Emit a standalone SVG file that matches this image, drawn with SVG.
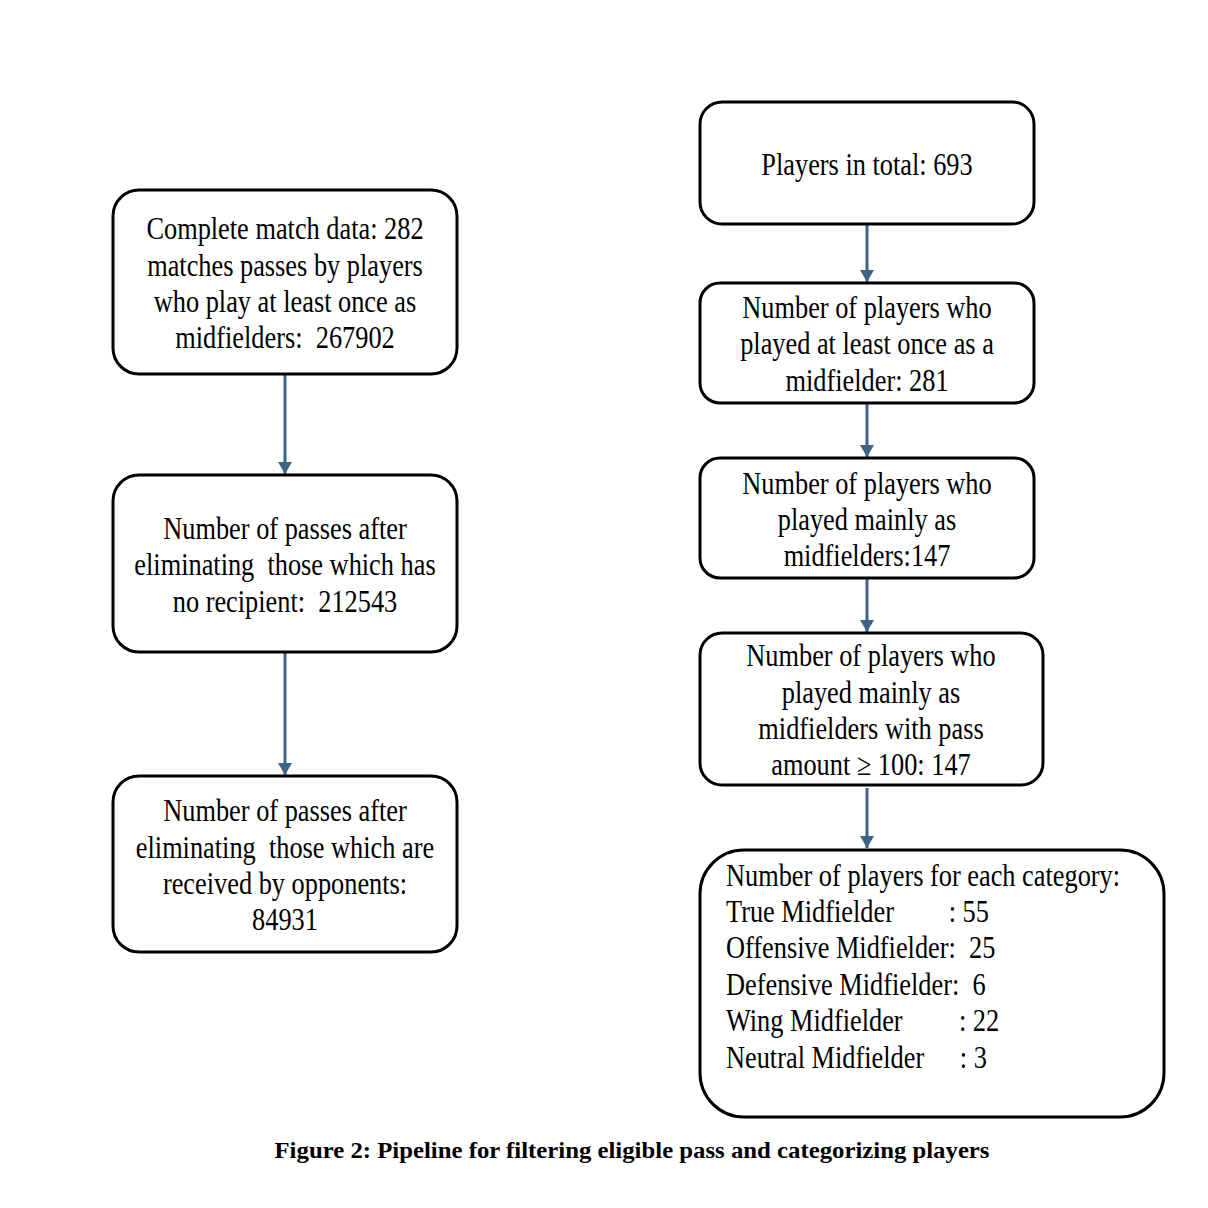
<svg xmlns="http://www.w3.org/2000/svg" width="1208" height="1208" viewBox="0 0 1208 1208">
<style>
.box{fill:#fff;stroke:#000;stroke-width:3}
.t{font-family:"Liberation Serif","Times New Roman",serif;font-size:31px;fill:#000}
.c{text-anchor:middle}
.conn{stroke:#3d6386;stroke-width:3;fill:none}
.cap{font-family:"Liberation Serif","Times New Roman",serif;font-size:24px;font-weight:bold;fill:#000;text-anchor:middle}
</style>
<defs>
<marker id="ah" viewBox="0 0 12 14" refX="12" refY="7" markerWidth="13" markerHeight="14" markerUnits="userSpaceOnUse" orient="auto">
<path d="M0,0 L12,7 L0,14 Z" fill="#3d6386"/>
</marker>
</defs>
<rect width="1208" height="1208" fill="#fff"/>
<g id="connectors">
<line class="conn" x1="285" y1="375" x2="285" y2="474" marker-end="url(#ah)"/>
<line class="conn" x1="285" y1="653" x2="285" y2="775" marker-end="url(#ah)"/>
<line class="conn" x1="867" y1="225" x2="867" y2="282" marker-end="url(#ah)"/>
<line class="conn" x1="867" y1="404" x2="867" y2="457" marker-end="url(#ah)"/>
<line class="conn" x1="867" y1="579" x2="867" y2="632" marker-end="url(#ah)"/>
<line class="conn" x1="867" y1="788" x2="867" y2="848" marker-end="url(#ah)"/>
</g>
<g id="node-match-data">
<rect class="box" x="113" y="190" width="344" height="184" rx="26"/>
<g transform="translate(285 0) scale(0.85 1)">
<text class="t c" x="0" y="239">Complete match data: 282</text>
<text class="t c" x="0" y="276">matches passes by players</text>
<text class="t c" x="0" y="312">who play at least once as</text>
<text class="t c" x="0" y="348" xml:space="preserve">midfielders:  267902</text>
</g>
</g>
<g id="node-no-recipient">
<rect class="box" x="113" y="475" width="344" height="177" rx="26"/>
<g transform="translate(285 0) scale(0.85 1)">
<text class="t c" x="0" y="539">Number of passes after</text>
<text class="t c" x="0" y="575" xml:space="preserve">eliminating  those which has</text>
<text class="t c" x="0" y="612" xml:space="preserve">no recipient:  212543</text>
</g>
</g>
<g id="node-opponents">
<rect class="box" x="113" y="776" width="344" height="176" rx="26"/>
<g transform="translate(285 0) scale(0.85 1)">
<text class="t c" x="0" y="821">Number of passes after</text>
<text class="t c" x="0" y="858" xml:space="preserve">eliminating  those which are</text>
<text class="t c" x="0" y="894">received by opponents:</text>
<text class="t c" x="0" y="930">84931</text>
</g>
</g>
<g id="node-players-total">
<rect class="box" x="700" y="102" width="334" height="122" rx="22"/>
<g transform="translate(867 0) scale(0.85 1)">
<text class="t c" x="0" y="175">Players in total: 693</text>
</g>
</g>
<g id="node-once-midfielder">
<rect class="box" x="700" y="283" width="334" height="120" rx="20"/>
<g transform="translate(867 0) scale(0.85 1)">
<text class="t c" x="0" y="318">Number of players who</text>
<text class="t c" x="0" y="354">played at least once as a</text>
<text class="t c" x="0" y="391">midfielder: 281</text>
</g>
</g>
<g id="node-mainly-midfielder">
<rect class="box" x="700" y="458" width="334" height="120" rx="20"/>
<g transform="translate(867 0) scale(0.85 1)">
<text class="t c" x="0" y="494">Number of players who</text>
<text class="t c" x="0" y="530">played mainly as</text>
<text class="t c" x="0" y="566">midfielders:147</text>
</g>
</g>
<g id="node-pass-amount">
<rect class="box" x="700" y="633" width="343" height="152" rx="22"/>
<g transform="translate(871 0) scale(0.85 1)">
<text class="t c" x="0" y="666">Number of players who</text>
<text class="t c" x="0" y="703">played mainly as</text>
<text class="t c" x="0" y="739">midfielders with pass</text>
<text class="t c" x="0" y="775">amount ≥ 100: 147</text>
</g>
</g>
<g id="node-categories">
<rect class="box" x="700" y="850" width="464" height="267" rx="44"/>
<g transform="translate(726 0) scale(0.85 1)">
<text class="t" x="0" y="886">Number of players for each category:</text>
<text class="t" x="0" y="922">True Midfielder<tspan x="262">: 55</tspan></text>
<text class="t" x="0" y="958" xml:space="preserve">Offensive Midfielder:  25</text>
<text class="t" x="0" y="995" xml:space="preserve">Defensive Midfielder:  6</text>
<text class="t" x="0" y="1031">Wing Midfielder<tspan x="274">: 22</tspan></text>
<text class="t" x="0" y="1068">Neutral Midfielder<tspan x="275">: 3</tspan></text>
</g>
</g>
<text class="cap" x="632" y="1158" textLength="715" lengthAdjust="spacingAndGlyphs">Figure 2: Pipeline for filtering eligible pass and categorizing players</text>
</svg>
